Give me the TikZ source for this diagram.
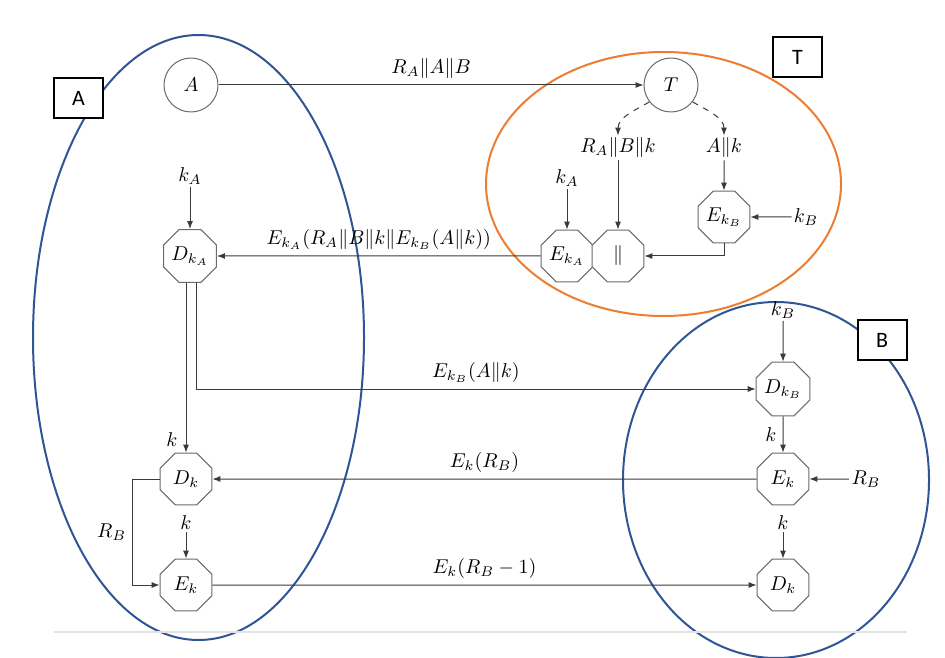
\documentclass[tikz,border=0pt]{standalone}
\usepackage{fontspec}
\newfontfamily\boxfont{Carlito}
\usetikzlibrary{shapes.geometric,arrows.meta}
\definecolor{ellblue}{HTML}{2F5597}
\definecolor{ellorange}{HTML}{ED7D31}
\definecolor{linegray}{HTML}{3A3A3A}
\definecolor{octgray}{HTML}{6A6A6A}

\begin{document}
\begin{tikzpicture}[x=0.5pt,y=-0.5pt,
  oct/.style={regular polygon, regular polygon sides=8, draw=octgray, fill=white,
    minimum size=28pt, inner sep=0pt, line width=0.5pt},
  party/.style={circle, draw=octgray, fill=white, minimum size=27pt, inner sep=0pt, line width=0.5pt},
  flow/.style={draw=linegray, line width=0.5pt, -{Latex[length=4pt,width=3pt]}},
  plain/.style={draw=linegray, line width=0.5pt},
  lbl/.style={inner sep=1pt},
  tag/.style={draw=black, line width=1pt, fill=white, minimum width=24.5pt,
    minimum height=20pt, inner sep=0pt, font=\boxfont\fontsize{11}{13}\selectfont},
  group/.style={line width=1pt},
]
\useasboundingbox (0,0) rectangle (945,657);

% group outlines
\draw[group, draw=ellblue] (198.5,337.5) ellipse [x radius=82.75pt, y radius=151.25pt];
\draw[group, draw=ellorange] (663.5,184) ellipse [x radius=88.75pt, y radius=66pt];
\draw[group, draw=ellblue] (776,480) ellipse [x radius=76.5pt, y radius=89pt];

% separator rule
\draw[draw=gray!22, line width=1pt] (54,632) -- (907,632);

% parties
\node[party] (A) at (191,85) {$A$};
\node[party] (T) at (671,85) {$T$};

% trusted party operations
\node[lbl] (RABk) at (618,148) {$R_A\|B\|k$};
\node[lbl] (Ak) at (724,148) {$A\|k$};
\node[lbl] (kA2) at (567,178) {$k_A$};
\node[lbl] (kB1) at (806,217) {$k_B$};
\node[oct] (EkA) at (567,256) {$E_{k_A}$};
\node[oct] (cat) at (618,256) {$\|$};
\node[oct] (EkB) at (724,217) {$E_{k_B}$};

% A side
\node[lbl] (kA1) at (190,176) {$k_A$};
\node[oct] (DkA) at (190,256) {$D_{k_A}$};
\node[oct] (Dk1) at (186,479) {$D_k$};
\node[lbl] (k1) at (186,523) {$k$};
\node[oct] (Ek1) at (186,585) {$E_k$};
\node[lbl] (kDk1) at (172,440) {$k$};

% B side
\node[lbl] (kB2) at (783,310) {$k_B$};
\node[oct] (DkB) at (783,389) {$D_{k_B}$};
\node[oct] (Ek2) at (783,479) {$E_k$};
\node[lbl] (RB1) at (866,479) {$R_B$};
\node[lbl] (k2) at (783,523) {$k$};
\node[oct] (Dk2) at (783,585) {$D_k$};

% messages
\draw[flow] (A) -- node[above, lbl, yshift=2pt] (mAT) {$R_A\|A\|B$} (T);
\draw[flow, dashed] (T.-142) to[out=-150, in=90] (RABk.north);
\draw[flow, dashed] (T.-38) to[out=-30, in=90] (Ak.north);
\draw[flow] (RABk) -- (cat);
\draw[flow] (Ak) -- (EkB);
\draw[flow] (kA2) -- (EkA);
\draw[flow] (kB1) -- (EkB);
\draw[flow] (EkB.south) |- (cat.east);
\draw[flow] (EkA) -- node[above, lbl, yshift=2pt] (mTA) {$E_{k_A}(R_A\|B\|k\|E_{k_B}(A\|k))$} (DkA);

\draw[flow] (kA1) -- (DkA);
\draw[flow] (DkA.south -| Dk1.north) -- (Dk1.north);
\draw[flow] ([xshift=3pt]DkA.south) |- node[pos=0.75, above, lbl, yshift=2pt] (mAB) {$E_{k_B}(A\|k)$} (DkB.west);

\draw[flow] (kB2) -- (DkB);
\draw[flow] (DkB) -- node[left, lbl, xshift=-2pt] (kDk2) {$k$} (Ek2);
\draw[flow] (RB1) -- (Ek2);
\draw[flow] (Ek2) -- node[above, lbl, yshift=2pt] (mBA) {$E_k(R_B)$} (Dk1);

\draw[flow] (Dk1.west) -- ++(-27,0) |- node[pos=0.25, left, lbl, xshift=-2pt] (RB2) {$R_B$} (Ek1.west);
\draw[flow] (k1) -- (Ek1);
\draw[flow] (Ek1) -- node[above, lbl, yshift=2pt] (mAB2) {$E_k(R_B-1)$} (Dk2);
\draw[flow] (k2) -- (Dk2);

% group tags
\node[tag] (tagA) at (78.5,98) {A};
\node[tag] (tagT) at (797.5,57) {T};
\node[tag] (tagB) at (882,340) {B};
\end{tikzpicture}
\end{document}
